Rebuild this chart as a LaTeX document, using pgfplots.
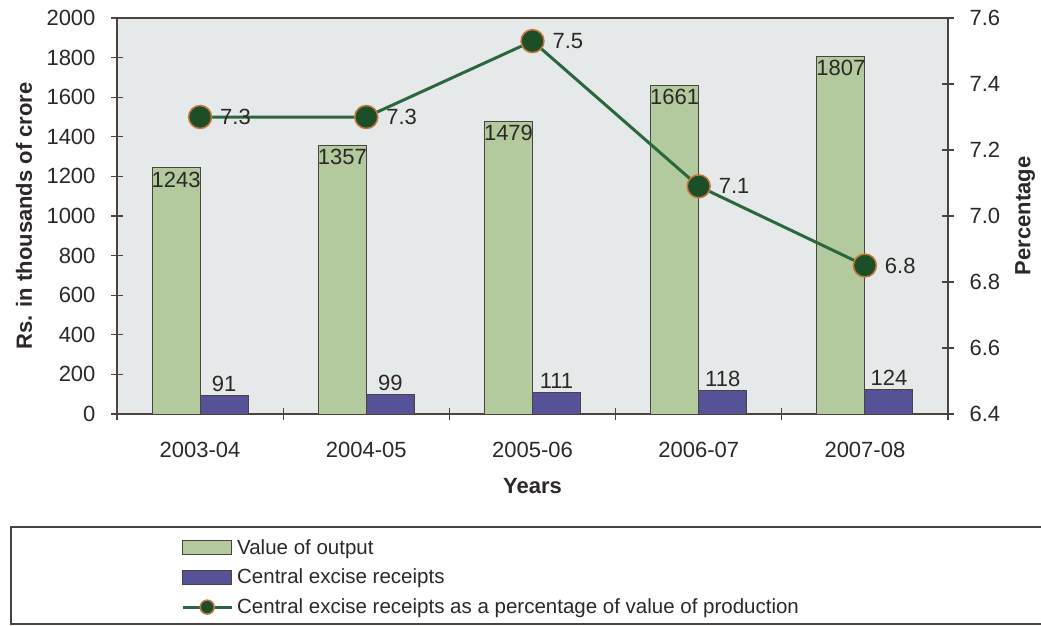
\documentclass[border=0pt]{standalone}
\usepackage{fontspec}
\setmainfont{Liberation Sans}
\usepackage{pgfplots}
\pgfplotsset{compat=1.18}
\definecolor{barGreen}{RGB}{178,202,158}
\definecolor{barBlue}{RGB}{86,82,152}
\definecolor{lineGreen}{RGB}{42,102,62}
\definecolor{markFill}{RGB}{28,78,40}
\definecolor{markEdge}{RGB}{196,120,60}
\definecolor{bgGray}{RGB}{230,233,233}
\definecolor{axisGray}{RGB}{75,68,62}
\definecolor{txtGray}{RGB}{45,40,40}
\pgfkeys{/pgf/number format/1000 sep={}}
\pgfplotsset{
  barlegend/.style={legend image code/.code={\draw[##1] (0pt,-7pt) rectangle (49pt,7pt);}},
  linelegend/.style={legend image code/.code={\draw[##1, mark size=7pt, mark repeat=2, mark phase=2] plot coordinates {(0pt,0pt) (24.5pt,0pt) (49pt,0pt)};}},
  common/.style={
    scale only axis, width=831pt, height=396pt,
    xmin=-0.5, xmax=4.5, clip=false,
    /pgf/number format/assume math mode=true,
    tick align=center, major tick length=12pt, minor tick length=12pt,
    axis line style={draw=axisGray, line width=1.3pt},
    every tick/.style={draw=axisGray, line width=1.3pt},
    tick label style={font=\fontsize{22}{26}\selectfont, text=txtGray},
    yticklabel shift=12pt,
  }
}
\begin{document}
\begin{tikzpicture}
\useasboundingbox (-117pt,-211pt) rectangle (924pt,414pt);
\fill[white] (-117pt,-211pt) rectangle (924pt,414pt);
\begin{axis}[common,
  axis background/.style={fill=bgGray},
  ymin=0, ymax=2000, ytick={0,200,...,2000}, ytick pos=left,
  xtick={0,1,2,3,4}, xticklabels={2003-04,2004-05,2005-06,2006-07,2007-08},
  major x tick style={draw=none},
  minor xtick={-0.5,0.5,1.5,2.5,3.5,4.5}, xtick pos=bottom,
  xticklabel shift=19pt,
  xlabel={Years}, ylabel={Rs. in thousands of crore},
  every axis x label/.style={at={(axis description cs:0.5,-0.183)}, anchor=center,
    font=\bfseries\fontsize{22}{26}\selectfont, text=txtGray},
  every axis y label/.style={at={(axis description cs:-0.112,0.5)}, rotate=90, anchor=center,
    font=\bfseries\fontsize{22}{26}\selectfont, text=txtGray},
  nodes near coords style={font=\fontsize{22}{26}\selectfont, text=txtGray},
]
\addplot[ybar, bar width=48pt, bar shift=-24pt, fill=barGreen, draw=axisGray, line width=1pt,
  nodes near coords, every node near coord/.append style={anchor=north, xshift=-24pt}]
  table {
x y
0 1243
1 1357
2 1479
3 1661
4 1807
};
\addplot[ybar, bar width=48pt, bar shift=24pt, fill=barBlue, draw=axisGray, line width=1pt,
  nodes near coords, every node near coord/.append style={anchor=south, xshift=24pt}]
  table {
x y
0 91
1 99
2 111
3 118
4 124
};
\end{axis}
\begin{axis}[common,
  ymin=6.4, ymax=7.6, ytick={6.4,6.6,...,7.6},
  hide x axis, axis y line*=right,
  yticklabel style={/pgf/number format/.cd, fixed, fixed zerofill, precision=1},
  ylabel={Percentage},
  every axis y label/.style={at={(axis description cs:1.0927,0.5)}, rotate=90, anchor=center,
    font=\bfseries\fontsize{22}{26}\selectfont, text=txtGray},
  legend style={at={(axis description cs:0.0734,-0.3056)}, anchor=north west,
    draw=none, fill=none, font=\fontsize{20.5}{24}\selectfont, text=txtGray,
    row sep=9.5pt, column sep=2pt},
  legend cell align=left,
]
\addlegendimage{fill=barGreen, draw=axisGray, line width=1pt, barlegend}
\addlegendentry{Value of output}
\addlegendimage{fill=barBlue, draw=axisGray, line width=1pt, barlegend}
\addlegendentry{Central excise receipts}
\addplot[lineGreen, line width=3pt, mark=*, mark size=11.5pt,
  mark options={fill=markFill, draw=markEdge, line width=1.5pt},
  nodes near coords, point meta=explicit symbolic,
  every node near coord/.append style={anchor=west, xshift=16pt, font=\fontsize{22}{26}\selectfont, text=txtGray},
  linelegend]
  table[meta=label] {
x y label
0 7.30 7.3
1 7.30 7.3
2 7.53 7.5
3 7.09 7.1
4 6.85 6.8
};
\addlegendentry{Central excise receipts as a percentage of value of production}
\end{axis}
\draw[axisGray, line width=1.3pt] (-106pt,-113pt) rectangle (940pt,-210pt);
\end{tikzpicture}
\end{document}
